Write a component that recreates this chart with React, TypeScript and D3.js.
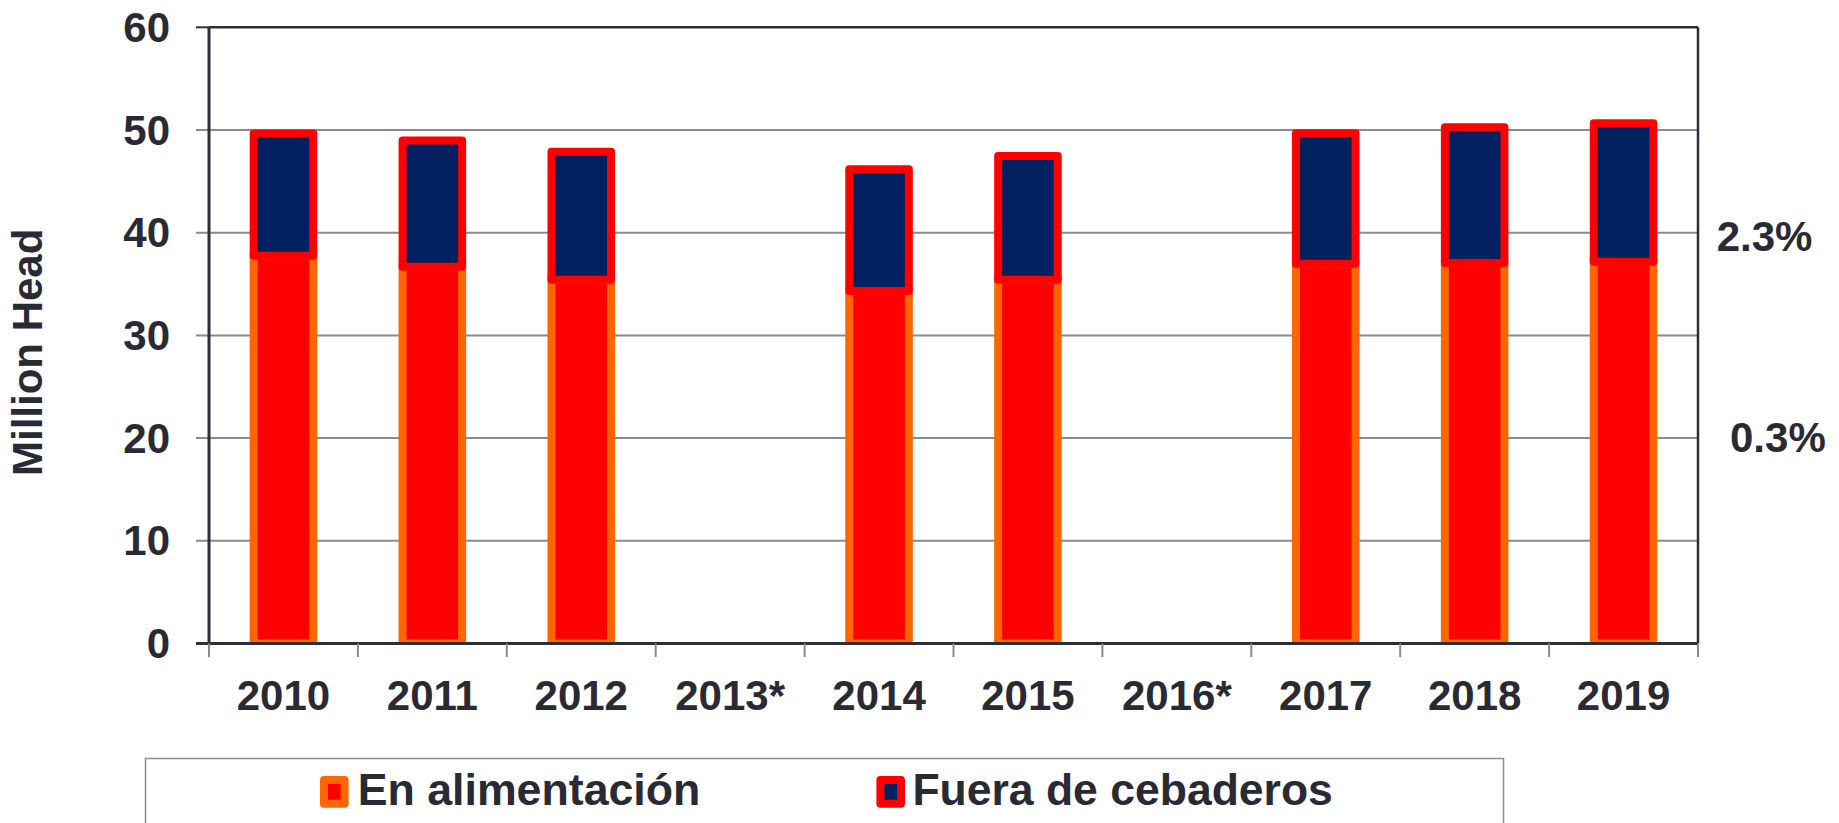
import React from "react";
import * as d3 from "d3";

const categories = ["2010", "2011", "2012", "2013*", "2014", "2015", "2016*", "2017", "2018", "2019"];
// En alimentación (bottom segment)
const enAlimentacion: (number | null)[] = [37.75, 36.69, 35.42, null, 34.32, 35.42, null, 36.97, 37.05, 37.17];
// Fuera de cebaderos (top segment)
const fueraCebaderos: (number | null)[] = [11.91, 12.29, 12.46, null, 11.85, 12.05, null, 12.71, 13.22, 13.49];
const yTicks = [0, 10, 20, 30, 40, 50, 60];
const legendLabels = ["En alimentación", "Fuera de cebaderos"];
const sideLabels = [
  { text: "2.3%", value: 38.2 },
  { text: "0.3%", value: 18.6 },
];

const W = 1839;
const H = 823;
const LEFT = 209;
const RIGHT = 1698;
const TOP = 27.3;
const BOTTOM = 643.5;

const ORANGE = "#FF6600";
const RED = "#FF0000";
const NAVY = "#002060";
const TEXT = "#2a2a35";
const GRID = "#8a8a8e";
const AXIS = "#2e2e38";
const FONT = "'Liberation Sans', Arial, Helvetica, sans-serif";

export default function App() {
  const x = d3.scaleBand<string>().domain(categories).range([LEFT, RIGHT]).padding(0);
  const y = d3.scaleLinear().domain([0, 60]).range([BOTTOM, TOP]);
  const bw = x.bandwidth() * 0.4;
  const boundaries = d3.range(categories.length + 1).map((i) => LEFT + i * x.bandwidth());

  return (
    <svg
      width={W}
      height={H}
      style={{ position: "absolute", left: 0, top: 0, display: "block", background: "#fff" }}
      fontFamily={FONT}
    >
      <defs>
        <clipPath id="plotClip">
          <rect x={LEFT} y={0} width={RIGHT - LEFT} height={BOTTOM} />
        </clipPath>
      </defs>
      {/* gridlines and left ticks */}
      {yTicks.map((t) => (
        <line
          key={"g" + t}
          x1={196}
          x2={t === 0 || t === 60 ? LEFT : RIGHT}
          y1={y(t)}
          y2={y(t)}
          stroke={t === 0 || t === 60 ? AXIS : GRID}
          strokeWidth={2}
        />
      ))}
      {/* bars */}
      <g clipPath="url(#plotClip)">
        {categories.map((c, i) => {
          const b = enAlimentacion[i];
          const f = fueraCebaderos[i];
          if (b == null || f == null) return null;
          const cx = (x(c) as number) + x.bandwidth() / 2;
          return (
            <g key={c}>
              <rect
                x={cx - bw / 2}
                y={y(b)}
                width={bw}
                height={y(0) - y(b)}
                fill={RED}
                stroke={ORANGE}
                strokeWidth={8}
              />
              <rect
                x={cx - bw / 2}
                y={y(b + f)}
                width={bw}
                height={y(b) - y(b + f)}
                fill={NAVY}
                stroke={RED}
                strokeWidth={8}
                strokeLinejoin="round"
              />
            </g>
          );
        })}
      </g>
      {/* frame */}
      <line x1={LEFT} x2={RIGHT} y1={TOP} y2={TOP} stroke={AXIS} strokeWidth={2.5} />
      <line x1={RIGHT} x2={RIGHT} y1={TOP} y2={BOTTOM} stroke={AXIS} strokeWidth={2.5} />
      <line x1={LEFT} x2={LEFT} y1={TOP} y2={BOTTOM} stroke={AXIS} strokeWidth={3} />
      <line x1={196} x2={RIGHT} y1={BOTTOM} y2={BOTTOM} stroke={AXIS} strokeWidth={3} />
      {boundaries.map((bx, i) => (
        <line key={"xt" + i} x1={bx} x2={bx} y1={BOTTOM} y2={657} stroke={GRID} strokeWidth={2} />
      ))}
      {/* y tick labels */}
      {yTicks.map((t) => (
        <text
          key={"yl" + t}
          x={170}
          y={y(t) + 14.5}
          textAnchor="end"
          fontSize={42}
          fontWeight="bold"
          fill={TEXT}
        >
          {t}
        </text>
      ))}
      {/* x labels */}
      {categories.map((c) => (
        <text
          key={"xl" + c}
          x={(x(c) as number) + x.bandwidth() / 2}
          y={710}
          textAnchor="middle"
          fontSize={42}
          fontWeight="bold"
          fill={TEXT}
        >
          {c}
        </text>
      ))}
      {/* y axis title */}
      <text
        transform="translate(42.3,352.3) rotate(-90)"
        textAnchor="middle"
        fontSize={42}
        fontWeight="bold"
        fill={TEXT}
      >
        Million Head
      </text>
      {/* side labels */}
      {sideLabels.map((s, i) => (
        <text
          key={s.text}
          x={i === 0 ? 1716.7 : 1730}
          y={y(s.value)}
          fontSize={42}
          fontWeight="bold"
          fill={TEXT}
        >
          {s.text}
        </text>
      ))}
      {/* legend */}
      <rect x={145.5} y={758.5} width={1358} height={80} fill="#fff" stroke="#8f8f93" strokeWidth={1.5} />
      <rect x={324} y={780} width={20.6} height={23.7} fill={RED} stroke={ORANGE} strokeWidth={8} strokeLinejoin="round" />
      <text x={357.7} y={805.3} fontSize={44.7} fontWeight="bold" fill={TEXT}>
        {legendLabels[0]}
      </text>
      <rect x={880.4} y={780} width={20.6} height={23.7} fill={NAVY} stroke={RED} strokeWidth={8} strokeLinejoin="round" />
      <text x={912.4} y={805.3} fontSize={44.5} fontWeight="bold" fill={TEXT}>
        {legendLabels[1]}
      </text>
    </svg>
  );
}
